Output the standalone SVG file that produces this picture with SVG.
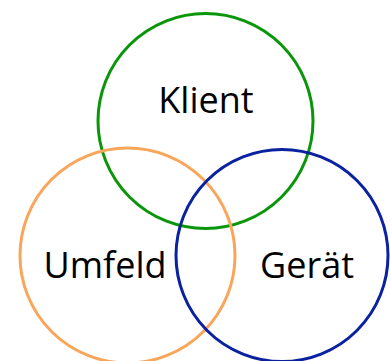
<svg xmlns="http://www.w3.org/2000/svg" width="390" height="361" viewBox="0 0 390 361">
<style>
.c{fill:none;stroke-width:3}
.t{font-family:"Open Sans","Liberation Sans",sans-serif;font-size:36px;fill:#000;text-anchor:middle}
</style>
<rect width="390" height="361" fill="#fff"/>
<g id="klient"><circle class="c" cx="205.5" cy="121" r="107.5" stroke="#0A960A"/><text class="t" x="206" y="113">Klient</text></g>
<g id="umfeld"><circle class="c" cx="127.5" cy="255.5" r="107.5" stroke="#F9A65A"/><text class="t" x="105" y="278">Umfeld</text></g>
<g id="geraet"><circle class="c" cx="282" cy="255.5" r="106" stroke="#0A22A0"/><text class="t" x="307" y="278">Gerät</text></g>
<g id="connectors"/>
</svg>
